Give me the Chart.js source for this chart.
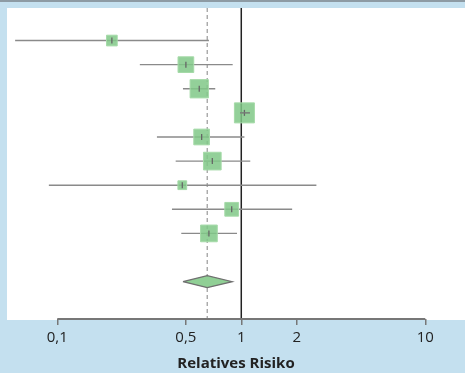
<!DOCTYPE html>
<html lang="de">
<head>
<meta charset="UTF-8">
<title>Relatives Risiko</title>
<script src="https://cdn.jsdelivr.net/npm/chart.js@4.4.1/dist/chart.umd.min.js"></script>
<style>
  html, body { margin: 0; padding: 0; background: #c4e0ef; }
  #wrap { width: 465px; height: 373px; position: relative; }
</style>
</head>
<body>
<div id="wrap"><canvas id="forest"></canvas></div>
<script>
// study estimates (relative risk) with 95% CI, and weights in %
const rr      = [0.198, 0.50, 0.591, 1.04, 0.609, 0.696, 0.478, 0.887, 0.667];
const lower   = [0.059, 0.281, 0.482, 0.984, 0.348, 0.44, 0.090, 0.42, 0.472];
const upper   = [0.667, 0.898, 0.722, 1.115, 1.04, 1.119, 2.56, 1.89, 0.948];
const weights = [5.2, 11.2, 15.2, 18.2, 11.2, 14.2, 3.5, 8.6, 12.7];
// pooled result
const pooledRR    = 0.653;
const pooledLower = 0.482;
const pooledUpper = 0.894;
const xTicks = [0.1, 0.5, 1, 2, 10];

const Y_MIN = -0.35, Y_MAX = 12.55;
const POOLED_ROW = 11;
const rows = rr.map((v, i) => i + 1);

// box side grows with sqrt(weight); 'rect' point side = radius * sqrt(2)
const boxRadius = weights.map(w => 4.69 * Math.sqrt(w) / Math.SQRT2);

const lineDs = (data, color, width, order, extra) => Object.assign({
  type: 'scatter', data, showLine: true, pointRadius: 0,
  borderColor: color, borderWidth: width, order
}, extra || {});

const datasets = [];

// reference lines
datasets.push(lineDs([{x: 1, y: Y_MIN}, {x: 1, y: Y_MAX}], '#222', 1.5, 10));
datasets.push(lineDs([{x: pooledRR, y: Y_MIN}, {x: pooledRR, y: Y_MAX}], '#9a9a9a', 1.2, 9,
  {borderDash: [4, 3]}));

// confidence intervals
rr.forEach((v, i) => {
  datasets.push(lineDs([{x: lower[i], y: rows[i]}, {x: upper[i], y: rows[i]}],
    '#8a8a8a', 1.4, 8));
});

// weighted boxes
datasets.push({
  type: 'scatter',
  data: rr.map((v, i) => ({x: v, y: rows[i]})),
  pointStyle: 'rect',
  pointRadius: boxRadius,
  backgroundColor: 'rgba(128,200,135,0.85)',
  borderColor: 'rgba(165,218,168,1)',
  borderWidth: 1,
  order: 4
});

// point estimate ticks
datasets.push({
  type: 'scatter',
  data: rr.map((v, i) => ({x: v, y: rows[i]})),
  pointStyle: 'line',
  rotation: 90,
  pointRadius: 3,
  borderColor: '#666',
  borderWidth: 1.3,
  order: 3
});

// short CI inside the biggest box stays visible
datasets.push(lineDs([{x: lower[3], y: rows[3]}, {x: upper[3], y: rows[3]}], '#777', 1.3, 2));

// pooled diamond
datasets.push(lineDs([
  {x: pooledLower, y: POOLED_ROW},
  {x: pooledRR, y: POOLED_ROW - 0.25},
  {x: pooledUpper, y: POOLED_ROW},
  {x: pooledRR, y: POOLED_ROW + 0.25},
  {x: pooledLower, y: POOLED_ROW}
], '#6f6f6f', 1.2, 1, {fill: 'shape', backgroundColor: '#90cf95', tension: 0}));

// x axis line from 0,1 to 10
datasets.push(lineDs([{x: 0.1, y: Y_MAX}, {x: 10, y: Y_MAX}], '#777', 2, 0, {clip: false}));

const background = {
  id: 'background',
  beforeDraw(chart) {
    const {ctx, chartArea: a, width, height} = chart;
    ctx.save();
    ctx.fillStyle = '#c4e0ef';
    ctx.fillRect(0, 0, width, height);
    ctx.fillStyle = '#8d9ba4';
    ctx.fillRect(0, 0, width, 2);
    ctx.fillStyle = '#ffffff';
    ctx.fillRect(a.left, a.top, a.right - a.left, a.bottom - a.top + 1);
    ctx.restore();
  }
};

new Chart(document.getElementById('forest'), {
  type: 'scatter',
  data: {datasets},
  options: {
    responsive: true,
    maintainAspectRatio: false,
    animation: false,
    layout: {autoPadding: false, padding: {left: 7, top: 8, right: 0, bottom: 0}},
    plugins: {legend: {display: false}, tooltip: {enabled: false}},
    scales: {
      x: {
        type: 'logarithmic',
        min: 0.0533,
        max: 16.44,
        afterBuildTicks: s => { s.ticks = xTicks.map(v => ({value: v})); },
        afterFit: s => { s.height = 54; },
        ticks: {
          callback: v => String(v).replace('.', ','),
          autoSkip: false, maxRotation: 0, padding: 4,
          color: '#222',
          font: {family: 'Open Sans', size: 15}
        },
        grid: {drawOnChartArea: false, drawTicks: true, tickLength: 6, color: '#777', lineWidth: 1.5},
        border: {display: false},
        title: {
          display: true, text: 'Relatives Risiko', color: '#222',
          padding: {top: 0, bottom: 0},
          font: {family: 'Open Sans', size: 15, weight: 'bold'}
        }
      },
      y: {type: 'linear', reverse: true, min: Y_MIN, max: Y_MAX, display: false}
    }
  },
  plugins: [background]
});
</script>
</body>
</html>
